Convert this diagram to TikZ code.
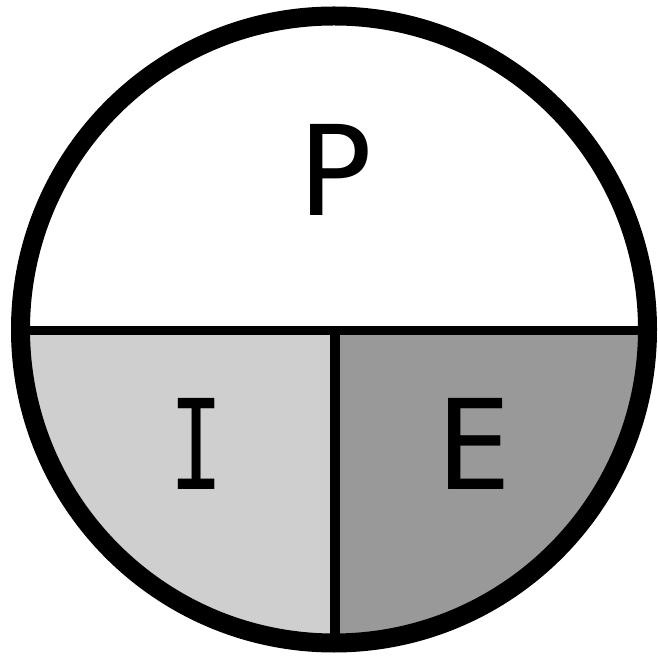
\documentclass[tikz,border=0pt]{standalone}
\usepackage{graphicx}
\usepackage{fontspec}
\newfontfamily\lblfont{DejaVu Sans Mono}
\begin{document}
\begin{tikzpicture}[x=1pt,y=1pt,
  lbl/.style={anchor=base,inner sep=0pt,font=\lblfont\fontsize{125}{125}\selectfont}]
\useasboundingbox (0,0) rectangle (658,656);
\coordinate (c) at (334,326.5);
\begin{scope}
  \clip (c) circle (313.5);
  \fill[fill={rgb,255:red,207;green,207;blue,207}] (0,0) rectangle (335,325.5);
  \fill[fill={rgb,255:red,153;green,153;blue,153}] (335,0) rectangle (658,325.5);
\end{scope}
\coordinate (hl) at (10,325.5);
\coordinate (hr) at (658,325.5);
\coordinate (vt) at (335,325.5);
\coordinate (vb) at (335,0);
\begin{scope}
  \clip (c) circle (313.5);
  \draw[line width=8.5pt] (hl) -- (hr);
  \draw[line width=10pt] (vt) -- (vb);
\end{scope}
\draw[line width=19pt] (c) circle (313.5);
\node[lbl] (p) at (336,440) {P};
\node[lbl] (i) at (197,166) {\scalebox{0.72}[1]{I}};
\node[lbl] (e) at (474.5,166) {E};
\end{tikzpicture}
\end{document}
